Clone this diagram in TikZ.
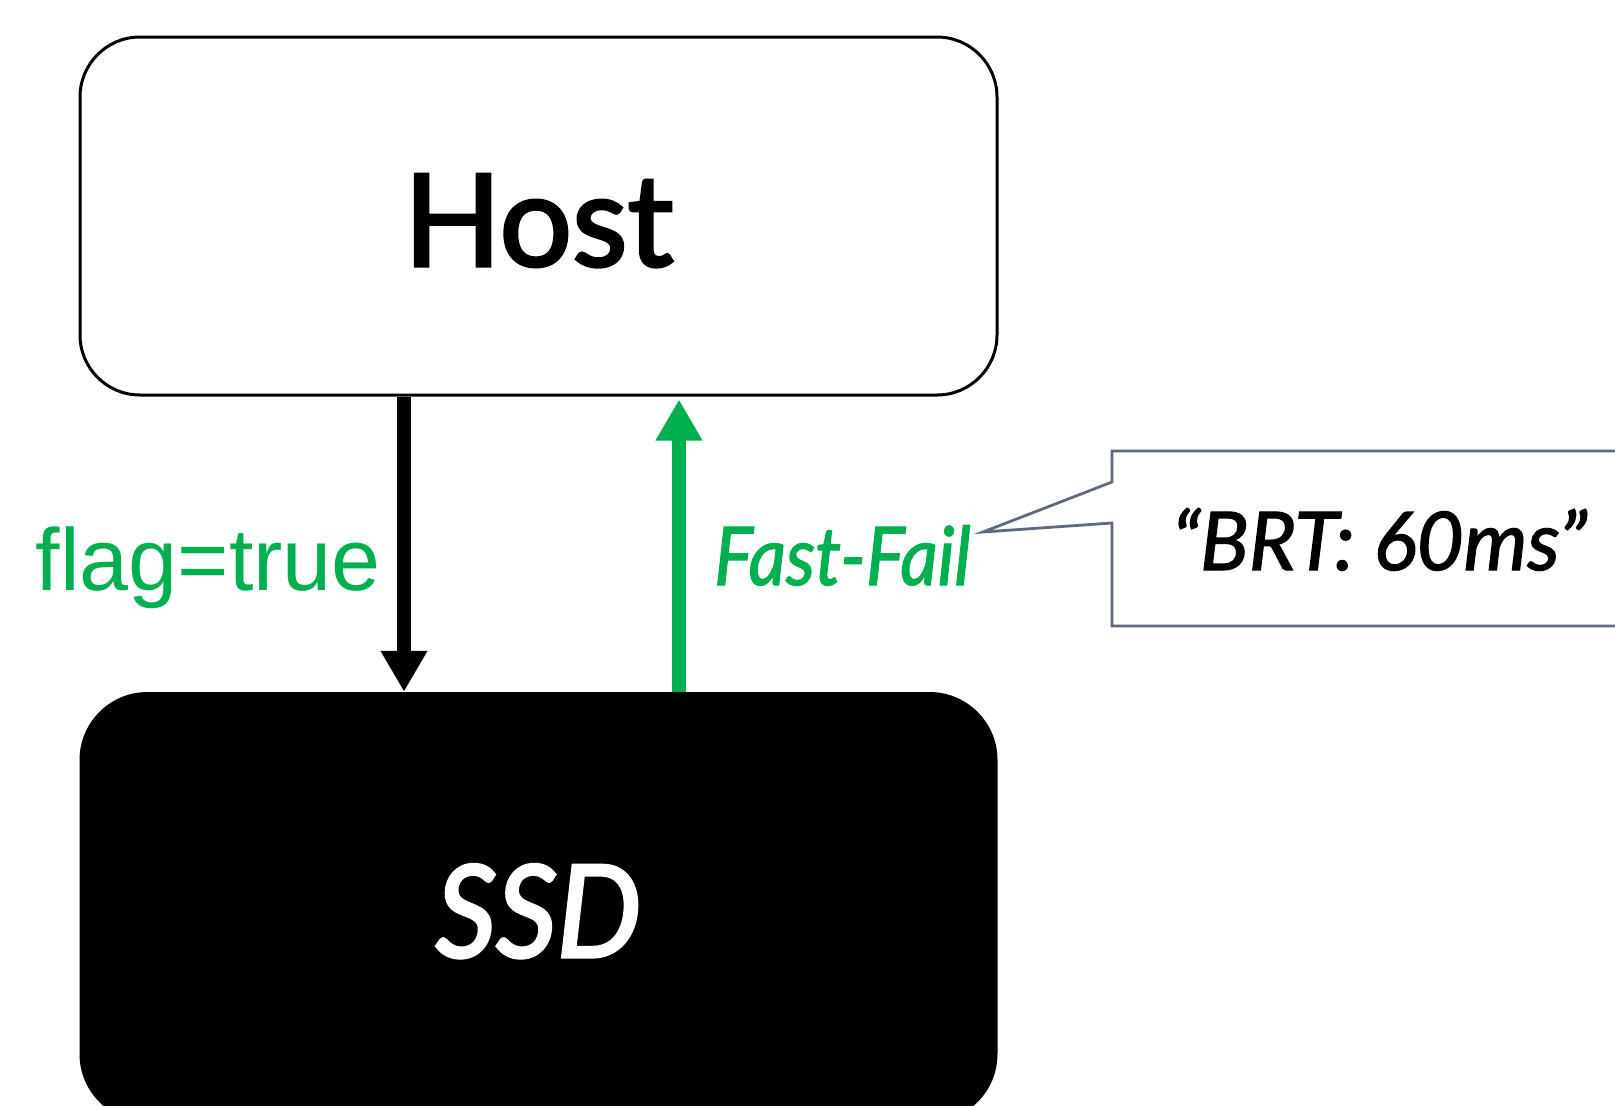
\documentclass[tikz,border=0pt]{standalone}
\usepackage{fontspec}
\setmainfont{Lato}
\newfontfamily\helv{Liberation Sans}
\newfontfamily\gillhost[FakeBold=2.5]{Lato}
\newfontfamily\gillssd[FakeBold=2.5,FakeStretch=0.93]{Lato}
\newfontfamily\gillff[FakeBold=1.6,FakeStretch=0.9]{Lato}
\newfontfamily\gillbrt[FakeBold=1.6]{Lato}
\usetikzlibrary{arrows.meta}
\definecolor{okgreen}{HTML}{00B050}
\definecolor{callgray}{HTML}{5F6B7A}
\begin{document}
\begin{tikzpicture}[x=1pt,y=-1pt,
  hostbox/.style={draw=black,line width=3pt,rounded corners=60pt,fill=white,
    minimum width=917pt,minimum height=358pt,inner sep=0pt,
    text height=100pt,text depth=0pt,
    font=\gillhost\fontsize{128}{150}\selectfont},
  ssdbox/.style={fill=black,rounded corners=68pt,
    minimum width=918pt,minimum height=430pt,inner sep=0pt,text=white,
    text height=100pt,text depth=0pt,
    font=\gillssd\fontsize{128}{150}\selectfont\itshape},
  conn/.style={line width=14pt,-{Triangle[length=41pt,width=44pt]}},
  lbl/.style={inner sep=0pt,text=okgreen},
  calloutline/.style={draw=callgray,line width=2.8pt,line join=miter}
]
\useasboundingbox (0,0) rectangle (1615,1106);
\fill[white] (0,0) rectangle (1615,1106);
\node[hostbox] (host) at (538.5,216) {Host};
\node[ssdbox] (ssd) at (538.5,907) {SSD};
\draw[conn,black] ([xshift=-134.5pt]host.south) -- ([xshift=-134.5pt]ssd.north);
\draw[conn,okgreen] ([xshift=140.5pt]ssd.north) -- ([xshift=140.5pt,yshift=-3pt]host.south);
\node[lbl,anchor=base east,font=\helv\fontsize{88}{100}\selectfont] (flag) at (381,590) {flag=true};
\node[lbl,anchor=base west,font=\gillff\fontsize{81}{95}\selectfont\itshape] (ff) at (714,585) {Fast-Fail};
\coordinate (tip) at (983,532);
\draw[calloutline,fill=white] (1112,482) -- (1112,451) -- (1640,451) -- (1640,626) -- (1112,626) -- (1112,523) -- (tip) -- cycle;
\node[inner sep=0pt,anchor=base west,font=\gillbrt\fontsize{81}{95}\selectfont\itshape] (brt) at (1172,570) {“BRT: 60ms”};
\end{tikzpicture}
\end{document}
